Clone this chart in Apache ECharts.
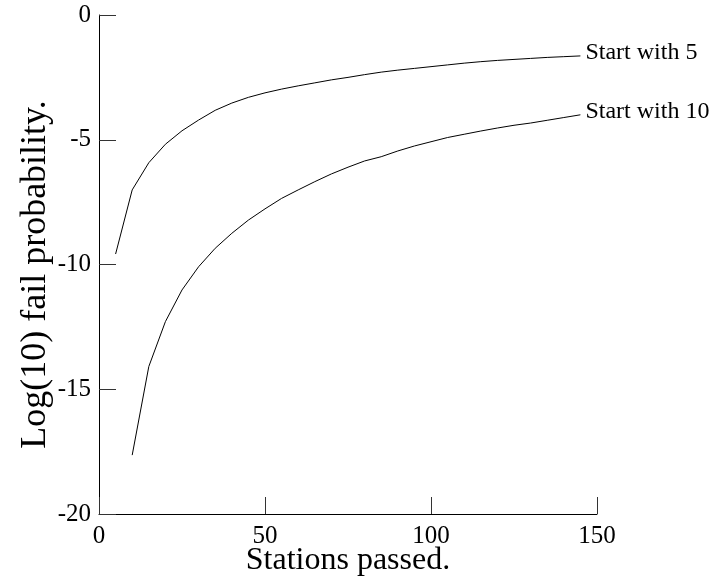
<!DOCTYPE html>
<html>
<head>
<meta charset="utf-8">
<script src="https://cdn.jsdelivr.net/npm/echarts@6/dist/echarts.min.js"></script>
<style>
  html, body { margin: 0; padding: 0; background: #fff; }
  #chart { width: 725px; height: 580px; }
</style>
</head>
<body>
<div id="chart"></div>
<script>
// stations passed (steps of 5)
const stations5 = [5, 10, 15, 20, 25, 30, 35, 40, 45, 50, 55, 60, 65, 70, 75, 80, 85, 90, 95, 100, 105, 110, 115, 120, 125, 130, 135, 140, 145]
const start5 = [-9.58, -7.01, -5.92, -5.18, -4.64, -4.21, -3.82, -3.53, -3.30, -3.12, -2.97, -2.84, -2.72, -2.60, -2.50, -2.39, -2.29, -2.21, -2.14, -2.07, -2.00, -1.93, -1.87, -1.82, -1.78, -1.74, -1.70, -1.67, -1.64]

const stations10 = [10, 15, 20, 25, 30, 35, 40, 45, 50, 55, 60, 65, 70, 75, 80, 85, 90, 95, 100, 105, 110, 115, 120, 125, 130, 135, 140, 145]
const start10 = [-17.64, -14.09, -12.29, -11.02, -10.09, -9.35, -8.75, -8.22, -7.77, -7.35, -7.01, -6.68, -6.37, -6.10, -5.85, -5.68, -5.45, -5.25, -5.08, -4.91, -4.78, -4.65, -4.53, -4.42, -4.33, -4.22, -4.11, -4.00]

const seriesNames = ['Start with 5', 'Start with 10']
const xTicks = [0, 50, 100, 150]
const yTicks = [0, -5, -10, -15, -20]

const font = 'Liberation Serif, Times New Roman, serif'
const chart = echarts.init(document.getElementById('chart'))

const pairs = (xs, ys) => xs.map((x, i) => [x, ys[i]])

const lineSeries = (name, data) => ({
  name: name,
  type: 'line',
  data: data,
  showSymbol: false,
  symbol: 'none',
  animation: false,
  lineStyle: { color: '#000', width: 1 },
  endLabel: {
    show: true,
    formatter: '{a}',
    distance: 5,
    offset: [0, -3],
    color: '#000',
    fontFamily: font,
    fontSize: 24
  }
})

chart.setOption({
  animation: false,
  grid: { left: 99, right: 128, top: 15, bottom: 66, containLabel: false, outerBoundsMode: 'none' },
  xAxis: {
    type: 'value',
    min: xTicks[0],
    max: xTicks[xTicks.length - 1],
    interval: 50,
    name: 'Stations passed.',
    nameLocation: 'middle',
    nameGap: 31,
    nameMoveOverlap: false,
    nameTextStyle: { color: '#000', fontFamily: font, fontSize: 32 },
    axisLine: { onZero: false, lineStyle: { color: '#000', width: 1 } },
    axisTick: { inside: true, length: 17, lineStyle: { color: '#333' } },
    axisLabel: { color: '#000', fontFamily: font, fontSize: 25, margin: 10 },
    splitLine: { show: false }
  },
  yAxis: {
    type: 'value',
    min: yTicks[yTicks.length - 1],
    max: yTicks[0],
    interval: 5,
    name: 'Log(10) fail probability.',
    nameLocation: 'middle',
    nameGap: 45,
    nameMoveOverlap: false,
    nameTextStyle: { color: '#000', fontFamily: font, fontSize: 36, padding: [0, 20, 0, 0] },
    axisLine: { show: true, onZero: false, lineStyle: { color: '#000', width: 1 } },
    axisTick: { show: true, inside: true, length: 17, lineStyle: { color: '#333' } },
    axisLabel: { color: '#000', fontFamily: font, fontSize: 25, margin: 8 },
    splitLine: { show: false }
  },
  series: [
    lineSeries(seriesNames[0], pairs(stations5, start5)),
    lineSeries(seriesNames[1], pairs(stations10, start10))
  ]
})
</script>
</body>
</html>
